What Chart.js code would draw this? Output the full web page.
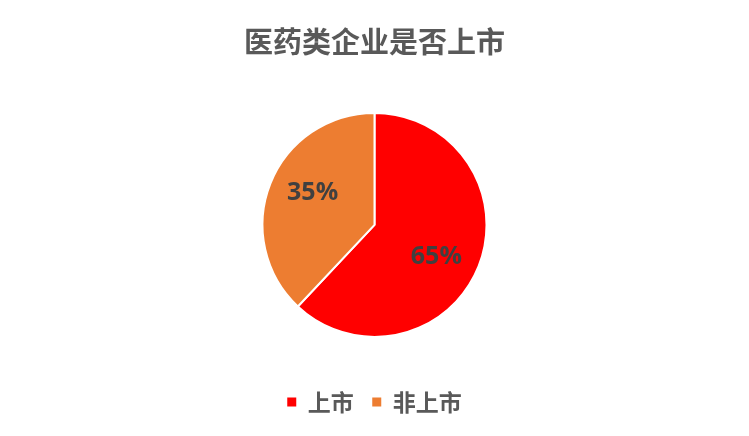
<!DOCTYPE html>
<html>
<head>
<meta charset="utf-8">
<script src="https://cdn.jsdelivr.net/npm/chart.js@4/dist/chart.umd.min.js"></script>
<style>
  html,body{margin:0;padding:0;background:#fff;}
  #wrap{width:749px;height:436px;}
</style>
</head>
<body>
<div id="wrap"><canvas id="myChart"></canvas></div>
<script>
const chartTitle = "医药类企业是否上市";
const categories = ["上市", "非上市"];
// slice sizes as drawn in the picture
const shares = [62, 38];
// percentages as printed on the slices
const labelShares = [65, 35];
const sliceColors = ["#FF0000", "#ED7D31"];

// draws the percent inside each slice
const sliceLabels = {
  id: "sliceLabels",
  afterDatasetsDraw(chart) {
    const ctx = chart.ctx;
    const meta = chart.getDatasetMeta(0);
    const total = labelShares.reduce((a, b) => a + b, 0);
    let cum = 0;
    ctx.save();
    ctx.font = "bold 25px 'Open Sans', 'Noto Sans', sans-serif";
    ctx.fillStyle = "#404040";
    ctx.textAlign = "center";
    ctx.textBaseline = "middle";
    meta.data.forEach((arc, i) => {
      const mid = -Math.PI / 2 + 2 * Math.PI * (cum + labelShares[i] / 2) / total;
      cum += labelShares[i];
      const r = arc.outerRadius * 0.62;
      ctx.fillText(labelShares[i] + "%", arc.x + Math.cos(mid) * r, arc.y + Math.sin(mid) * r);
    });
    ctx.restore();
  }
};

new Chart(document.getElementById("myChart"), {
  type: "pie",
  data: {
    labels: categories,
    datasets: [{
      data: shares,
      backgroundColor: sliceColors,
      borderColor: "#ffffff",
      borderWidth: 2,
      radius: 112
    }]
  },
  options: {
    responsive: true,
    maintainAspectRatio: false,
    animation: false,
    layout: { padding: { top: 0, bottom: 12.5, left: 0, right: 0 } },
    plugins: {
      title: {
        display: true,
        text: chartTitle,
        color: "#595959",
        font: { family: "'Noto Sans CJK SC', sans-serif", size: 29, weight: "bold" },
        padding: { top: 25, bottom: 18 }
      },
      legend: {
        position: "bottom",
        labels: {
          boxWidth: 9,
          boxHeight: 9,
          padding: 18.5,
          color: "#595959",
          font: { family: "'Noto Sans CJK SC', sans-serif", size: 23, weight: "bold" },
          generateLabels(chart) {
            const items = Chart.overrides.pie.plugins.legend.labels.generateLabels(chart);
            items.forEach(it => { it.lineWidth = 0; });
            return items;
          }
        }
      },
      tooltip: { enabled: false }
    }
  },
  plugins: [sliceLabels]
});
</script>
</body>
</html>
